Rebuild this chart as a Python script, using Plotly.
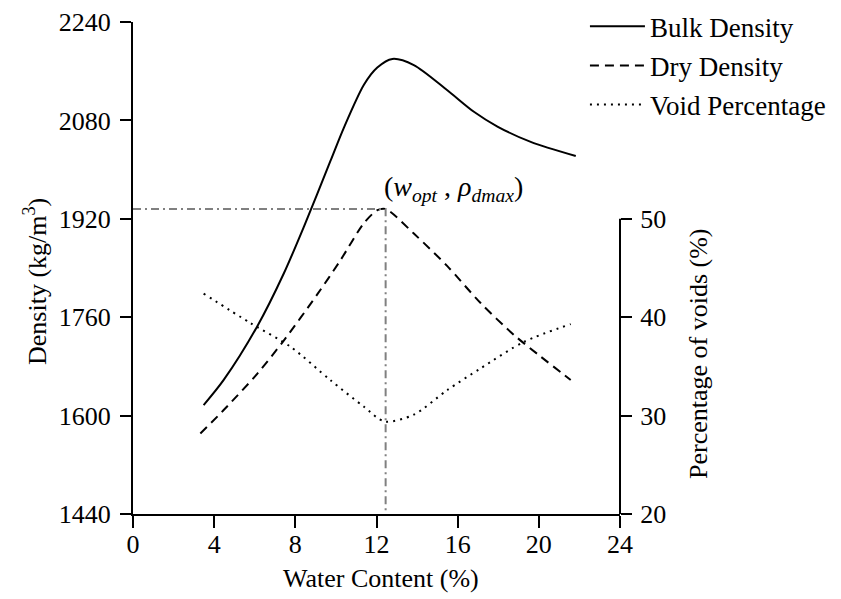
import plotly.graph_objects as go

# ---- data ----
w_bulk = [3.48, 4.47, 6.12, 7.43, 8.42, 9.73, 10.39, 11.38, 12.04, 12.78, 13.84, 15.49, 16.80, 17.96, 19.60, 21.82]
bulk = [1617, 1658, 1745, 1831, 1907, 2014, 2068, 2138, 2166, 2180, 2170, 2129, 2094, 2070, 2045, 2022]

w_dry = [3.32, 4.47, 6.12, 7.43, 9.08, 10.23, 11.38, 12.04, 12.45, 13.84, 15.49, 17.13, 18.78, 20.09, 21.57]
dry = [1571, 1609, 1668, 1722, 1797, 1853, 1913, 1934, 1936, 1896, 1843, 1783, 1731, 1696, 1658]

w_void = [3.48, 5.79, 7.76, 9.73, 11.38, 12.40, 13.84, 15.49, 17.13, 19.27, 21.57]
void = [42.4, 39.4, 37.0, 33.6, 30.9, 29.4, 30.1, 32.6, 34.8, 37.5, 39.3]

w_opt = 12.45
rho_dmax = 1936

x_ticks = [0, 4, 8, 12, 16, 20, 24]
y_ticks = [1440, 1600, 1760, 1920, 2080, 2240]
y2_ticks = [20, 30, 40, 50]

FONT = "Liberation Serif"
FS = 26

fig = go.Figure()
fig.add_trace(go.Scatter(x=w_bulk, y=bulk, mode="lines", name="Bulk Density",
                         line=dict(color="black", width=2, shape="spline", smoothing=0.8),
                         legendgroup="a"))
fig.add_trace(go.Scatter(x=w_dry, y=dry, mode="lines", name="Dry Density",
                         line=dict(color="black", width=2, dash="9px,6px", shape="spline", smoothing=0.8),
                         legendgroup="b"))
fig.add_trace(go.Scatter(x=w_void, y=void, mode="lines", name="Void Percentage", yaxis="y2",
                         line=dict(color="black", width=2, dash="2px,5px", shape="spline", smoothing=0.8),
                         legendgroup="c"))

# optimum guide lines
fig.add_trace(go.Scatter(x=[0, w_opt, w_opt], y=[rho_dmax, rho_dmax, 1440], mode="lines",
                         line=dict(color="#808080", width=2, dash="8px,4px,2px,4px"),
                         showlegend=False, hoverinfo="skip"))

fig.update_layout(
    width=841, height=599,
    margin=dict(l=133, r=221, t=22, b=85, autoexpand=False),
    paper_bgcolor="white", plot_bgcolor="white",
    font=dict(family=FONT, size=FS, color="black"),
    showlegend=True,
    legend=dict(x=0.928, y=1.04, xanchor="left", yanchor="top", bgcolor="rgba(0,0,0,0)",
                font=dict(size=27), traceorder="grouped", tracegroupgap=1, itemwidth=55),
    xaxis=dict(range=[0, 24], tickvals=x_ticks, showgrid=False, zeroline=False,
               showline=True, linecolor="black", linewidth=2,
               ticks="outside", ticklen=12, tickwidth=2, tickcolor="black",
               ticklabelstandoff=-6),
    yaxis=dict(range=[1440, 2240], tickvals=y_ticks, showgrid=False, zeroline=False,
               showline=True, linecolor="black", linewidth=2,
               ticks="outside", ticklen=11, tickwidth=2, tickcolor="black",
               ticklabelstandoff=4),
    yaxis2=dict(range=[20, 70], tickvals=y2_ticks, overlaying="y", side="right",
                showgrid=False, zeroline=False, showline=False,
                ticks="outside", ticklen=11, tickwidth=2, tickcolor="black",
                ticklabelstandoff=3),
)

# right axis line only spans 20-50
fig.add_shape(type="line", xref="paper", yref="y2", x0=1, x1=1, y0=20, y1=50,
              line=dict(color="black", width=2))

fig.add_annotation(x=12.28, y=1970, xref="x", yref="y", xanchor="left", yanchor="middle",
                   text="(<i>w</i><sub><i>opt</i></sub> , <i>ρ</i><sub><i>dmax</i></sub>)",
                   showarrow=False, font=dict(size=28))
fig.add_annotation(x=(381 - 133) / 487, y=-(578 - 514) / 492, xref="paper", yref="paper",
                   xanchor="center", yanchor="middle", text="Water Content (%)",
                   showarrow=False, font=dict(size=FS))
fig.add_annotation(x=-(133 - 35) / 487, y=(514 - 282) / 492, xref="paper", yref="paper",
                   xanchor="center", yanchor="middle", text="Density (kg/m<sup>3</sup>)",
                   textangle=-90, showarrow=False, font=dict(size=FS))
fig.add_annotation(x=(698 - 133) / 487, y=(514 - 354) / 492, xref="paper", yref="paper",
                   xanchor="center", yanchor="middle", text="Percentage of voids (%)",
                   textangle=-90, showarrow=False, font=dict(size=FS))

fig.write_html("out.html")
